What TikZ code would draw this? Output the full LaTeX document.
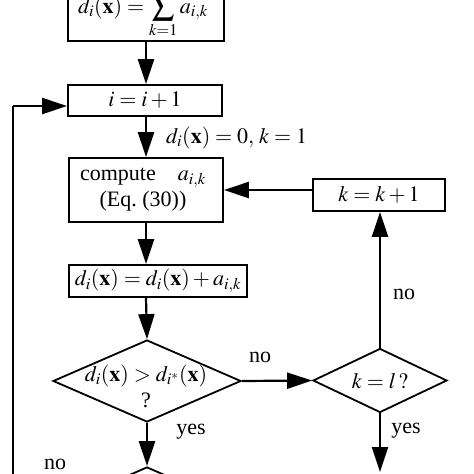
\documentclass[tikz,border=0pt]{standalone}
\usepackage{mathptmx}
\usepackage{fontspec}
\setmainfont{Liberation Serif}
\usetikzlibrary{arrows.meta,shapes.geometric}
\begin{document}
\begin{tikzpicture}[x=1pt,y=-1pt,
  every node/.style={font=\fontsize{22}{26}\selectfont},
  box/.style={draw, line width=1.8pt, rectangle, inner sep=0pt},
  dia/.style={draw, line width=1.8pt, diamond, inner sep=0pt},
  txt/.style={inner sep=0pt, align=center},
  flow/.style={line width=2.2pt, -{Triangle[length=25pt,width=16pt]}},
  plain/.style={line width=2.2pt}]
\useasboundingbox (0,0) rectangle (474,474);
% boxes
\node[box, minimum width=156pt, minimum height=90pt] (top) at (146,-4) {};
\node[txt, anchor=base] (toptext) at (143,13) {$d_i(\mathbf{x}) = \displaystyle\sum_{k=1} a_{i,k}$};
\node[box, minimum width=154pt, minimum height=31pt] (inc) at (145,100.5) {$i = i+1$};
\node[box, minimum width=154pt, minimum height=64pt] (comp) at (146,190) {};
\node[txt] (comptext) at (143,190) {compute\quad $a_{i,k}$\\(Eq.\ (30))};
\node[box, minimum width=132pt, minimum height=32pt] (kinc) at (379,195) {$k = k+1$};
\node[box, minimum width=178pt, minimum height=32pt] (acc) at (158,281) {$d_i(\mathbf{x}) = d_i(\mathbf{x}) + a_{i,k}$};
% diamonds
\node[dia, minimum width=188pt, minimum height=82pt] (cmp) at (147,381) {};
\node[txt] (cmptext) at (146,386) {$d_i(\mathbf{x}) > d_{i^*}(\mathbf{x})$\\?};
\node[dia, minimum width=134pt, minimum height=64pt] (keq) at (380,380.5) {};
\node[txt] (keqtext) at (380,381) {$k = l\,?$};
\node[dia, minimum width=188pt, minimum height=82pt] (next) at (147,508) {};
% coordinates
\coordinate (loopbot) at (13,490);
% labels
\node[txt, anchor=west] (l0) at (166,138) {$d_i(\mathbf{x}) = 0,\, k = 1$};
\node[txt] (lno1) at (260,357) {no};
\node[txt] (lno2) at (404,294) {no};
\node[txt] (lyes1) at (191,432) {yes};
\node[txt] (lyes2) at (406,431) {yes};
\node[txt] (lno3) at (55,464) {no};
% connectors
\draw[flow] (top.south) -- (top.south |- inc.north);
\draw[flow] ([xshift=1pt]inc.south) -- ([xshift=1pt]inc.south |- comp.north);
\draw[flow] (comp.south) -- (comp.south |- acc.north);
\draw[flow] (comp.south |- acc.south) -- (cmp.north);
\draw[flow] (cmp.east) -- (keq.west);
\draw[flow] (keq.north) -- (keq.north |- kinc.south);
\draw[flow] (kinc.west |- comp.east) -- (comp.east);
\draw[flow] (cmp.south) -- (next.north);
\draw[flow] (keq.south) -- ([yshift=2pt]keq.south |- 0,474);
\draw[plain] (loopbot) -- (loopbot |- 0,106) coordinate (lt);
\draw[flow] (lt) -- (lt -| inc.west);
\end{tikzpicture}
\end{document}
